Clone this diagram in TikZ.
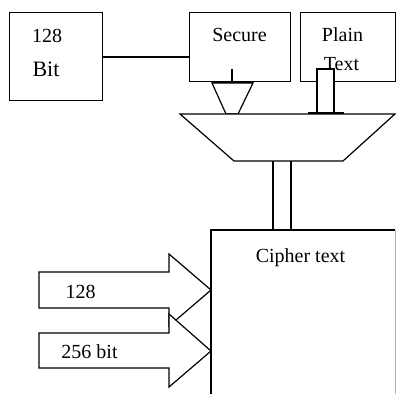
\documentclass[tikz,border=0pt]{standalone}
\usepackage{fontspec}
\setmainfont{Liberation Serif}
\begin{document}
\begin{tikzpicture}[x=1pt,y=-1pt,
  ln/.style={line width=1.2pt,line join=miter},
  boxst/.style={draw,line width=1.2pt,fill=white,inner sep=0,anchor=north west},
  lbl/.style={inner sep=0,anchor=base,font=\fontsize{20}{22}\selectfont}]
\useasboundingbox (0,0) rectangle (396,394);
% boxes
\node[boxst,minimum width=93pt,minimum height=88pt] (bitbox) at (9,12) {};
\node[boxst,minimum width=101pt,minimum height=69pt] (secure) at (189,12) {};
\node[boxst,minimum width=95pt,minimum height=69pt] (plain) at (300,12) {};
\draw[ln] (bitbox.east |- 0,57) -- (secure.west |- 0,57);
% labels in boxes
\node[lbl] (t128) at (47,42) {128};
\node[lbl,font=\fontsize{22}{24}\selectfont] (tbit) at (46,76) {Bit};
\node[lbl] (tsec) at (239.5,41) {Secure};
\node[lbl] (tplain) at (342.5,41) {Plain};
% secure stem and funnel
\coordinate (stemtop) at (232,69);
\coordinate (stembot) at (232,82);
\draw[ln] (stemtop) -- (stembot);
\draw[ln,fill=white] (212,83) -- (253,83) -- (238,114) -- (226,114) -- cycle;
\draw[line width=2.2pt] (212,82) -- (253,82);
% plain text pipe
\draw[ln,fill=white] (317,113) -- (317,69) -- (334,69) -- (334,113);
\draw[line width=2.2pt] (308,113) -- (344,113);
\node[lbl] (ttext) at (341.5,70) {Text};
% big trapezoid
\node[inner sep=0] (mux) at (287.5,137.5) {};
\draw[ln,fill=white] (180,114) -- (395,114) -- (343,161) -- (234,161) -- cycle;
% cipher box
\coordinate (ctl) at (211,230);
\draw[ln] (211,394) -- (ctl) -- (395,230);
\draw[gray!60,line width=0.6pt] (395.5,230) -- (395.5,394);
\node[lbl] (tcipher) at (300.5,262) {Cipher text};
% pipe from trapezoid to cipher box
\draw[ln] (273,161) -- (273,230);
\draw[ln] (291,161) -- (291,230);
% arrows
\coordinate (tipA) at (211,290);
\coordinate (tipB) at (211,351);
\draw[ln,fill=white] (39,272) -- (169,272) -- (169,254) -- (tipA) -- (169,326) -- (169,308) -- (39,308) -- cycle;
\draw[ln,fill=white] (39,333) -- (169,333) -- (169,314) -- (tipB) -- (169,387) -- (169,368) -- (39,368) -- cycle;
\node[lbl] (ta) at (80.5,298) {128};
\node[lbl] (tb) at (89.5,358) {256 bit};
\end{tikzpicture}
\end{document}
